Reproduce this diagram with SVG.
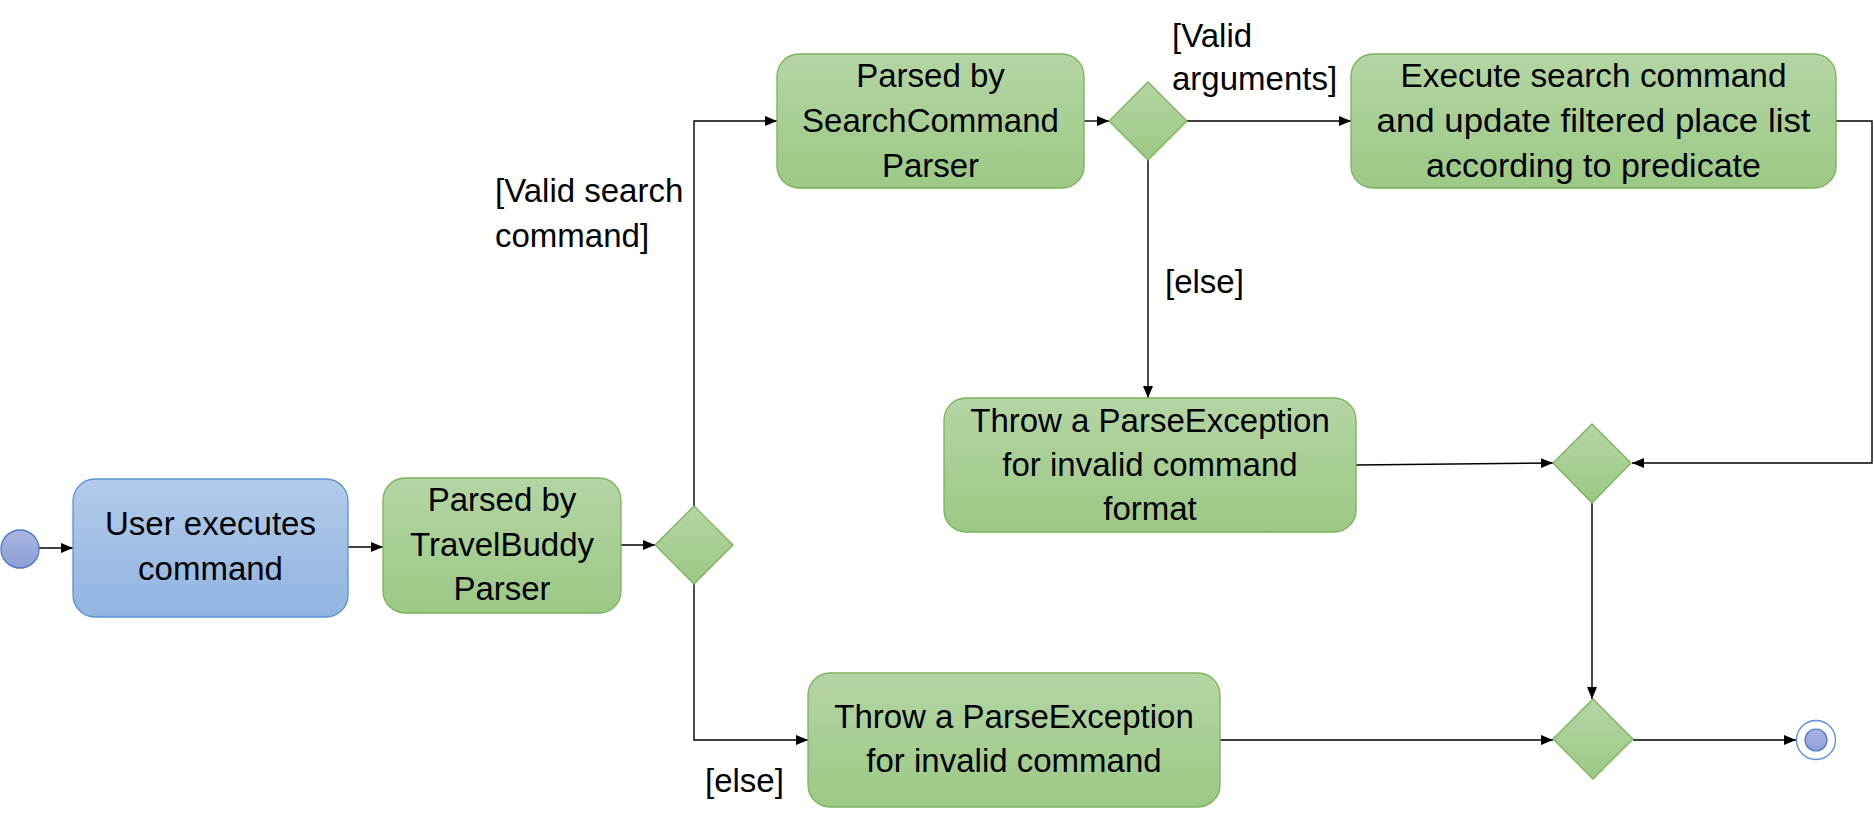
<svg xmlns="http://www.w3.org/2000/svg" width="1874" height="821" viewBox="0 0 1874 821">
<defs>
<linearGradient id="gGreen" x1="0" y1="0" x2="0" y2="1">
<stop offset="0" stop-color="#b4d5a4"/>
<stop offset="1" stop-color="#9cc985"/>
</linearGradient>
<linearGradient id="gBlue" x1="0" y1="0" x2="0" y2="1">
<stop offset="0" stop-color="#b3cbea"/>
<stop offset="1" stop-color="#90b4e1"/>
</linearGradient>
<linearGradient id="gDot" x1="0" y1="0" x2="0" y2="1">
<stop offset="0" stop-color="#a9b6e2"/>
<stop offset="1" stop-color="#8d9fd6"/>
</linearGradient>
<marker id="arr" markerUnits="userSpaceOnUse" markerWidth="13" markerHeight="11" refX="12" refY="5" orient="auto">
<path d="M0,0 L12,5 L0,10 z" fill="#000"/>
</marker>
<style>
.green{fill:url(#gGreen);stroke:#7ab35a;stroke-width:1.3}
.blue{fill:url(#gBlue);stroke:#5b93d3;stroke-width:1.3}
.t{font-family:"Liberation Sans",Arial,sans-serif;font-size:33px;fill:#000;text-anchor:middle}
.l{font-family:"Liberation Sans",Arial,sans-serif;font-size:33px;fill:#000}
.c{fill:none;stroke:#000;stroke-width:1.4;marker-end:url(#arr)}
</style>
</defs>

<g id="connectors">
<line class="c" x1="39" y1="548" x2="73" y2="548"/>
<line class="c" x1="348" y1="547" x2="383" y2="547"/>
<line class="c" x1="621" y1="545" x2="655" y2="545"/>
<polyline class="c" points="694,506 694,121 777,121"/>
<polyline class="c" points="694,584 694,740 808,740"/>
<line class="c" x1="1084" y1="121" x2="1109" y2="121"/>
<line class="c" x1="1187" y1="121" x2="1351" y2="121"/>
<line class="c" x1="1148" y1="160" x2="1148" y2="398"/>
<polyline class="c" points="1836,121 1872,121 1872,463 1632,463"/>
<line class="c" x1="1356" y1="465" x2="1553" y2="463"/>
<line class="c" x1="1592" y1="503" x2="1592" y2="699"/>
<line class="c" x1="1220" y1="740" x2="1553" y2="740"/>
<line class="c" x1="1633" y1="740" x2="1796" y2="740"/>
</g>

<g id="labels">
<text class="l" x="495" y="202">[Valid search</text>
<text class="l" x="495" y="247">command]</text>
<text class="l" x="1172" y="47">[Valid</text>
<text class="l" x="1172" y="90">arguments]</text>
<text class="l" x="1165" y="293">[else]</text>
<text class="l" x="705" y="792">[else]</text>
</g>

<g id="start">
<circle cx="20" cy="549" r="19" fill="url(#gDot)" stroke="#4a76c6" stroke-width="1.3"/>
</g>

<g id="userExecutes">
<rect class="blue" x="73" y="479" width="275" height="138" rx="22"/>
<text class="t" x="210.5" y="535">User executes</text>
<text class="t" x="210.5" y="580">command</text>
</g>

<g id="travelBuddyParser">
<rect class="green" x="383" y="478" width="238" height="135" rx="22"/>
<text class="t" x="502" y="511">Parsed by</text>
<text class="t" x="502" y="556">TravelBuddy</text>
<text class="t" x="502" y="600">Parser</text>
</g>

<g id="decision1">
<polygon class="green" points="694,506 733,545 694,584 655,545"/>
</g>

<g id="searchCommandParser">
<rect class="green" x="777" y="54" width="307" height="134" rx="22"/>
<text class="t" x="930.5" y="87">Parsed by</text>
<text class="t" x="930.5" y="132">SearchCommand</text>
<text class="t" x="930.5" y="177">Parser</text>
</g>

<g id="decision2">
<polygon class="green" points="1148,82 1187,121 1148,160 1109,121"/>
</g>

<g id="executeSearch">
<rect class="green" x="1351" y="54" width="485" height="134" rx="22"/>
<text class="t" x="1593.5" y="87" textLength="386" lengthAdjust="spacingAndGlyphs">Execute search command</text>
<text class="t" x="1593.5" y="132" textLength="434" lengthAdjust="spacingAndGlyphs">and update filtered place list</text>
<text class="t" x="1593.5" y="177" textLength="335" lengthAdjust="spacingAndGlyphs">according to predicate</text>
</g>

<g id="throwFormat">
<rect class="green" x="944" y="398" width="412" height="134" rx="22"/>
<text class="t" x="1150" y="432">Throw a ParseException</text>
<text class="t" x="1150" y="476">for invalid command</text>
<text class="t" x="1150" y="520">format</text>
</g>

<g id="merge1">
<polygon class="green" points="1592,424 1631,463 1592,503 1553,463"/>
</g>

<g id="throwInvalid">
<rect class="green" x="808" y="673" width="412" height="134" rx="22"/>
<text class="t" x="1014" y="728">Throw a ParseException</text>
<text class="t" x="1014" y="772">for invalid command</text>
</g>

<g id="merge2">
<polygon class="green" points="1593,699 1633,739 1593,779 1553,739"/>
</g>

<g id="end">
<circle cx="1816" cy="740" r="19.5" fill="#fff" stroke="#5b8fd6" stroke-width="1.3"/>
<circle cx="1816" cy="740" r="11" fill="url(#gDot)" stroke="#4a76c6" stroke-width="1.2"/>
</g>
</svg>
